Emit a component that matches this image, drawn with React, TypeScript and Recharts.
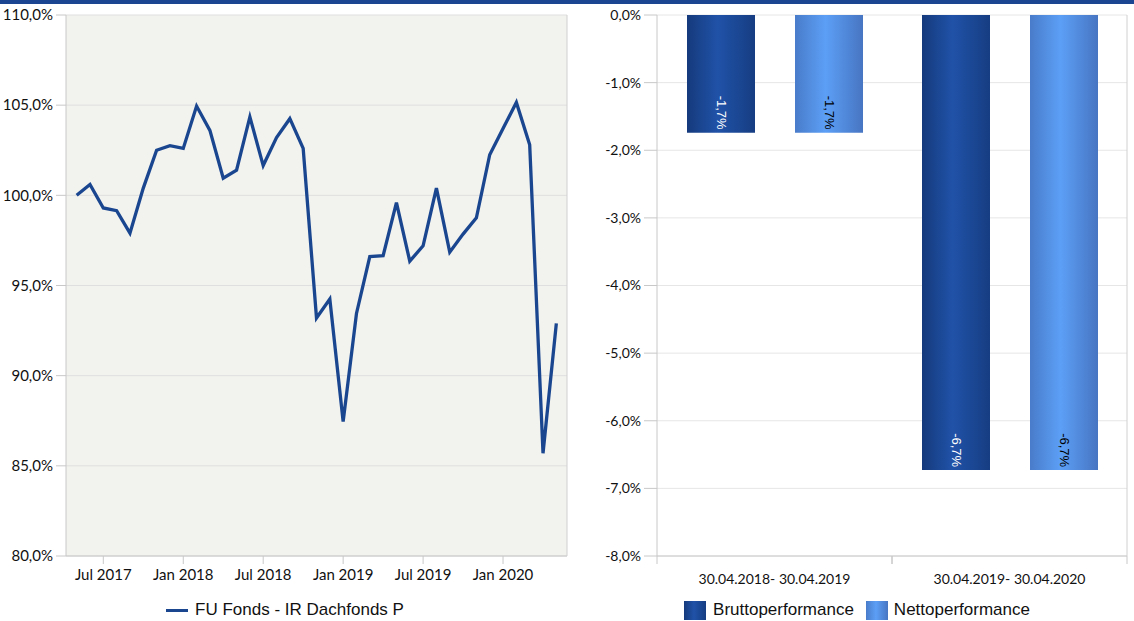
import React from 'react';
import { LineChart, Line, XAxis, YAxis, CartesianGrid, BarChart, Bar, LabelList } from 'recharts';

const months = [
  'Apr 2017', 'May 2017', 'Jun 2017', 'Jul 2017', 'Aug 2017', 'Sep 2017', 'Oct 2017', 'Nov 2017', 'Dec 2017',
  'Jan 2018', 'Feb 2018', 'Mar 2018', 'Apr 2018', 'May 2018', 'Jun 2018', 'Jul 2018', 'Aug 2018', 'Sep 2018',
  'Oct 2018', 'Nov 2018', 'Dec 2018', 'Jan 2019', 'Feb 2019', 'Mar 2019', 'Apr 2019', 'May 2019', 'Jun 2019',
  'Jul 2019', 'Aug 2019', 'Sep 2019', 'Oct 2019', 'Nov 2019', 'Dec 2019', 'Jan 2020', 'Feb 2020', 'Mar 2020', 'Apr 2020',
];
const fundValues = [
  100.0, 100.6, 99.3, 99.15, 97.9, 100.4, 102.5, 102.75, 102.6,
  104.95, 103.6, 100.95, 101.4, 104.35, 101.65, 103.2, 104.25, 102.6,
  93.2, 94.25, 87.45, 93.45, 96.6, 96.65, 99.6, 96.35, 97.2,
  100.4, 96.85, 97.85, 98.75, 102.25, 103.7, 105.15, 102.8, 85.7, 92.9,
];
// month-end index where the half-year ticks fall
const xTicks = [2, 8, 14, 20, 26, 32];
const xTickLabels = ['Jul 2017', 'Jan 2018', 'Jul 2018', 'Jan 2019', 'Jul 2019', 'Jan 2020'];
const yTicksLeft = [80, 85, 90, 95, 100, 105, 110];

const periods = ['30.04.2018- 30.04.2019', '30.04.2019- 30.04.2020'];
const bruttoValues = [-1.74, -6.73];
const nettoValues = [-1.74, -6.73];
const yTicksRight = [-8, -7, -6, -5, -4, -3, -2, -1, 0];

const lineData = months.map((m, i) => ({ t: i, month: m, fund: fundValues[i] }));
const barData = periods.map((p, i) => ({ period: p, brutto: bruttoValues[i], netto: nettoValues[i] }));

const FONT = 'Lato, "Liberation Sans", Arial, sans-serif';
const LEGEND_FONT = '"Liberation Sans", Arial, sans-serif';
const AXIS_GREY = '#c8c8c8';
const leftTick = { fontSize: 15, fill: '#111', fontFamily: FONT };
const rightTick = { fontSize: 14, fill: '#111', fontFamily: FONT };
const pct = (v: number) => v.toFixed(1).replace('.', ',') + '%';

const BarLabel = (color: string) => (props: any) => {
  const { x, y, width, height, value } = props;
  const bottom = Math.max(y, y + height);
  const cx = x + width / 2;
  const ay = bottom - 3;
  return (
    <text
      x={cx}
      y={ay}
      fill={color}
      fontSize={13}
      fontFamily={LEGEND_FONT}
      textAnchor="end"
      dominantBaseline="central"
      transform={`rotate(90, ${cx}, ${ay})`}
    >
      {pct(value)}
    </text>
  );
};

// category label plus tick marks on the band edges
const PeriodTick = (props: any) => {
  const { x, y, payload } = props;
  const half = payload.offset || 0;
  const axisY = y - 18; // default tickSize 6 + tickMargin 12
  return (
    <g>
      <line x1={x - half} x2={x - half} y1={axisY} y2={axisY + 8} stroke={AXIS_GREY} />
      <line x1={x + half} x2={x + half} y1={axisY} y2={axisY + 8} stroke={AXIS_GREY} />
      <text x={x} y={y} dy="0.71em" textAnchor="middle" {...rightTick}>
        {payload.value}
      </text>
    </g>
  );
};

export default function App() {
  return (
    <div style={{ position: 'absolute', left: 0, top: 0, width: 1134, height: 621, background: '#fff', overflow: 'hidden' }}>
      <div style={{ position: 'absolute', left: 0, top: 0, width: 1134, height: 4, background: '#1b4590' }} />

      <div style={{ position: 'absolute', left: 0, top: 0 }}>
        <LineChart width={580} height={621} data={lineData} margin={{ top: 15, right: 12, left: 0, bottom: 35 }}>
          <CartesianGrid vertical={false} stroke="#dfdfdf" fill="#f2f2ee" />
          <XAxis
            type="number"
            dataKey="t"
            domain={[-0.8, 36.8]}
            ticks={xTicks}
            tickFormatter={(v: number) => xTickLabels[xTicks.indexOf(v)]}
            tick={leftTick}
            tickLine={{ stroke: AXIS_GREY }}
            axisLine={{ stroke: AXIS_GREY }}
            tickSize={8}
            tickMargin={5}
            height={30}
          />
          <YAxis
            domain={[80, 110]}
            ticks={yTicksLeft}
            tickFormatter={pct}
            tick={leftTick}
            tickLine={{ stroke: AXIS_GREY }}
            axisLine={{ stroke: AXIS_GREY }}
            tickSize={10}
            tickMargin={3}
            width={66}
          />
          <YAxis
            yAxisId="border"
            orientation="right"
            domain={[80, 110]}
            tick={false}
            tickLine={false}
            axisLine={{ stroke: '#d0d0d0' }}
            width={1}
          />
          <Line
            type="linear"
            dataKey="fund"
            stroke="#1a4690"
            strokeWidth={3.3}
            dot={false}
            isAnimationActive={false}
          />
        </LineChart>
      </div>

      <div style={{ position: 'absolute', left: 580, top: 0 }}>
        <BarChart width={554} height={621} data={barData} margin={{ top: 15, right: 6, left: 0, bottom: 35 }} barGap={40}>
          <defs>
            <linearGradient id="gBrutto" x1="0" y1="0" x2="1" y2="0">
              <stop offset="0%" stopColor="#153a7c" />
              <stop offset="45%" stopColor="#2052a8" />
              <stop offset="100%" stopColor="#163d82" />
            </linearGradient>
            <linearGradient id="gNetto" x1="0" y1="0" x2="1" y2="0">
              <stop offset="0%" stopColor="#497cca" />
              <stop offset="45%" stopColor="#5c9ff6" />
              <stop offset="100%" stopColor="#4775c2" />
            </linearGradient>
          </defs>
          <CartesianGrid vertical={false} stroke="#e6e6e6" />
          <XAxis
            dataKey="period"
            tick={<PeriodTick />}
            tickLine={false}
            axisLine={{ stroke: AXIS_GREY }}
            tickMargin={12}
            height={30}
          />
          <YAxis
            domain={[-8, 0]}
            ticks={yTicksRight}
            tickFormatter={pct}
            tick={rightTick}
            tickLine={{ stroke: AXIS_GREY }}
            axisLine={{ stroke: AXIS_GREY }}
            tickSize={13}
            tickMargin={3}
            width={77}
          />
          <YAxis
            yAxisId="border"
            orientation="right"
            domain={[-8, 0]}
            tick={false}
            tickLine={false}
            axisLine={{ stroke: '#d0d0d0' }}
            width={1}
          />
          <Bar dataKey="brutto" name="Bruttoperformance" fill="url(#gBrutto)" barSize={68} isAnimationActive={false}>
            <LabelList dataKey="brutto" content={BarLabel('#fff')} />
          </Bar>
          <Bar dataKey="netto" name="Nettoperformance" fill="url(#gNetto)" barSize={68} isAnimationActive={false}>
            <LabelList dataKey="netto" content={BarLabel('#000')} />
          </Bar>
        </BarChart>
      </div>

      <div style={{ position: 'absolute', left: 0, width: 570, top: 600, display: 'flex', justifyContent: 'center', alignItems: 'center', fontFamily: LEGEND_FONT, fontSize: 17, color: '#111' }}>
        <span style={{ display: 'inline-block', width: 22, height: 3, background: '#1a4690', marginRight: 7 }} />
        <span>FU Fonds - IR Dachfonds P</span>
      </div>

      <div style={{ position: 'absolute', left: 580, width: 554, top: 600, display: 'flex', justifyContent: 'center', alignItems: 'center', fontFamily: LEGEND_FONT, fontSize: 17, color: '#111' }}>
        <span style={{ display: 'inline-block', width: 22, height: 19, background: 'linear-gradient(to right, #153a7c, #2052a8 45%, #163d82)', marginRight: 7 }} />
        <span style={{ marginRight: 12 }}>Bruttoperformance</span>
        <span style={{ display: 'inline-block', width: 22, height: 19, background: 'linear-gradient(to right, #497cca, #5c9ff6 45%, #4775c2)', marginRight: 6 }} />
        <span>Nettoperformance</span>
      </div>
    </div>
  );
}
